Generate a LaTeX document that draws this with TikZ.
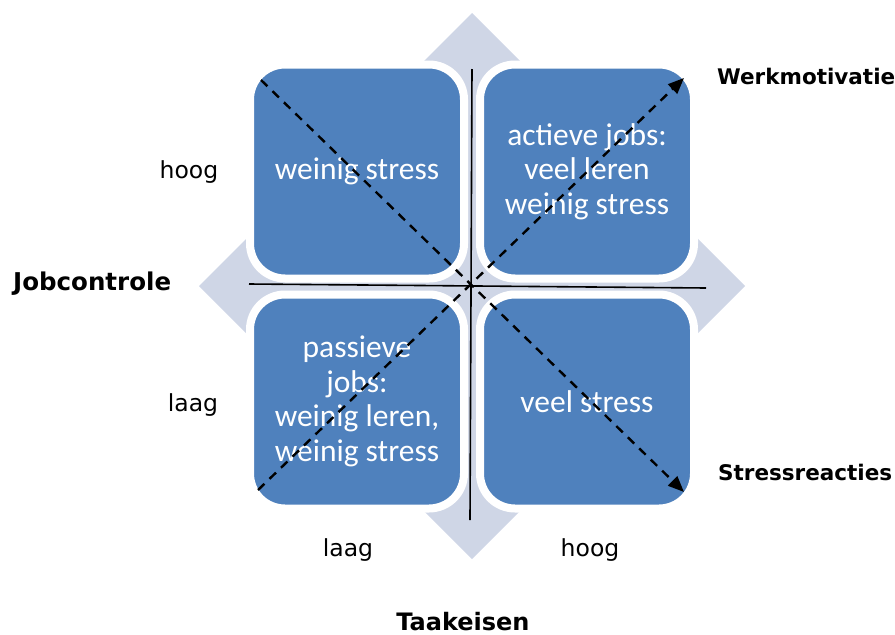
\documentclass[tikz,border=0pt]{standalone}
\usepackage{fontspec}
\setmainfont{DejaVu Sans}
\newfontfamily\boxfont{Carlito}
\usetikzlibrary{positioning,arrows.meta}
\definecolor{quadblue}{RGB}{79,129,189}
\definecolor{crossgray}{RGB}{207,214,230}

\begin{document}
\begin{tikzpicture}[x=1pt,y=-1pt,
		quadbox/.style={rectangle,rounded corners=35pt,fill=quadblue,draw=white,line width=8pt,minimum size=214pt,inner sep=0pt,outer sep=0pt,node distance=16pt,text=white,align=center,font=\boxfont\fontsize{31.5}{34.5}\selectfont},
		axislabel/.style={font=\fontsize{23.5}{27}\selectfont},
		namelabel/.style={font=\bfseries\fontsize{21.5}{26}\selectfont,inner sep=0pt},
		axisline/.style={line width=1.6pt},
		diagarrow/.style={line width=2.4pt,dash pattern=on 9pt off 7pt,-{Triangle[length=16pt,width=13pt]}}]
		\useasboundingbox (0,0) rectangle (895,635);

		% background cross
		\fill[crossgray] (472,13) -- (522,63) -- (522,236) -- (695,236) -- (745,286) -- (695,336) -- (522,336) -- (522,509)
			-- (472,559) -- (422,509) -- (422,336) -- (249,336) -- (199,286) -- (249,236) -- (422,236) -- (422,63) -- cycle;

		\node[quadbox]								(tl)	at (357,171.5)	{weinig stress};
		\node[quadbox,right=of tl]					(tr)	{actieve jobs:\\veel leren\\weinig stress};
		\node[quadbox,below=of tl]					(bl)	{passieve\\jobs:\\weinig leren,\\weinig stress};
		\node[quadbox,right=of bl]					(br)	{veel stress};

		\coordinate (h1) at (249,284);
		\coordinate (h2) at (706,288);
		\coordinate (v1) at (472,69);
		\coordinate (v2) at (470,520);
		\coordinate (d1) at (261,80);
		\coordinate (d2) at (684,492);
		\coordinate (d3) at (258,490);
		\coordinate (d4) at (684,78);

		\draw[axisline] (h1) -- (h2);
		\draw[axisline] (v1) -- (v2);
		\draw[diagarrow] (d1) -- (d2);
		\draw[diagarrow] (d3) -- (d4);

		\node[axislabel]							(hoogl)	at (189,172)	{hoog};
		\node[axislabel]							(laagl)	at (193,405)	{laag};
		\node[axislabel]							(laagb)	at (348,550)	{laag};
		\node[axislabel]							(hoogb)	at (590,550)	{hoog};

		\node[namelabel,anchor=west,font=\bfseries\fontsize{24.5}{28}\selectfont]	(jc)	at (13,284)		{Jobcontrole};
		\node[namelabel,anchor=west]				(wm)	at (717,76)		{Werkmotivatie};
		\node[namelabel,anchor=west]				(sr)	at (718,472)	{Stressreacties};
		\node[namelabel,font=\bfseries\fontsize{24}{28}\selectfont]	(te)	at (463,622)	{Taakeisen};
	\end{tikzpicture}
\end{document}
